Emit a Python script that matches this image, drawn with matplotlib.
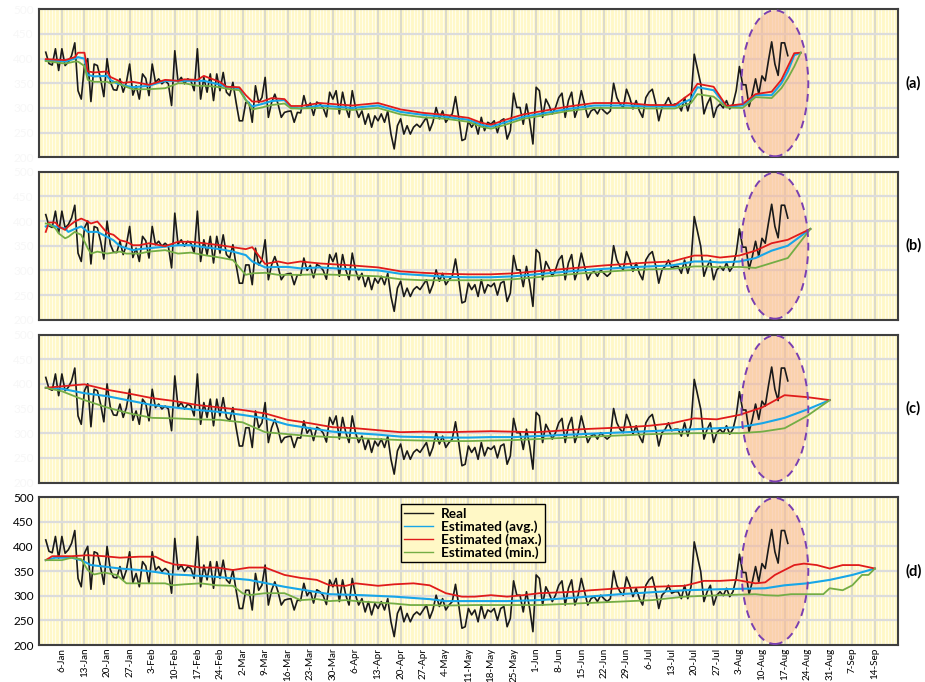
import matplotlib
matplotlib.use("Agg")
import matplotlib.pyplot as plt
from matplotlib.patches import Ellipse
import numpy as np

plt.rcParams["font.family"] = ["Lato", "DejaVu Sans"]

# day index 0 = 1-Jan (2020), one value per day
real = [
    413, 390, 387, 420, 376, 420, 386, 393, 406, 432,
    335, 318, 386, 400, 313, 389, 386, 359, 323, 400,
    353, 337, 336, 359, 332, 352, 389, 326, 345, 318,
    369, 360, 325, 389, 352, 359, 349, 355, 349, 305,
    416, 353, 362, 349, 359, 355, 335, 420, 318, 362,
    332, 369, 315, 369, 335, 372, 332, 325, 352, 311,
    274, 274, 311, 311, 271, 345, 311, 321, 362, 281,
    311, 328, 308, 281, 291, 293, 294, 271, 291, 290,
    325, 300, 310, 285, 312, 308, 300, 282,
    332, 318, 335, 288, 332, 301, 281, 335, 301, 281,
    294, 267, 288, 261, 284, 274, 288, 271, 294, 247,
    217, 264, 278, 247, 264, 247, 261, 267, 261, 271,
    281, 254, 271, 301, 278, 294, 271, 281, 288, 323,
    281, 234, 237, 274, 261,
    271, 247, 281, 254, 271, 267, 274, 250, 274, 278,
    237, 254, 330, 301, 301, 267, 308, 274, 227, 342,
    335, 281, 318, 305, 288, 301, 321, 330, 281, 315,
    332, 281, 301, 335, 308, 281, 294, 298, 288, 301,
    294, 288, 294, 350, 321,
    308, 301, 338, 321, 298, 315, 294, 281, 321, 332,
    338, 311, 274, 301, 308, 321, 305, 308, 308, 294,
    321, 294, 318, 409, 379, 349, 288, 308, 321, 281,
    301, 308, 300, 315, 298, 308, 335, 384, 347, 347,
    303, 328, 359, 328, 365,
    355, 396, 434, 389, 366, 432, 432, 406,
]

# panel (a)
a_days = [0, 6, 9, 10, 12, 13, 15, 19, 20, 22, 24, 27, 32, 37, 41, 43, 47, 49, 51, 54,
          56, 60, 62, 64, 67, 70, 74, 76, 79, 85, 95, 103, 110, 117, 124, 131, 135, 138,
          142, 148, 155, 162, 170, 180, 187, 195, 200, 202, 207, 211, 216, 220, 225,
          228, 230, 232, 234]
a_max = [399, 397, 403, 412, 412, 374, 372, 374, 363, 357, 351, 353, 347, 357, 355, 358,
         357, 365, 360, 353, 343, 342, 326, 313, 313, 320, 318, 304, 304, 310, 305, 310,
         297, 290, 286, 280, 270, 266, 275, 287, 295, 303, 310, 310, 306, 306, 330, 349,
         343, 304, 308, 328, 333, 357, 384, 411, 412]
a_avg = [397, 394, 400, 403, 400, 367, 364, 365, 357, 350, 346, 342, 345, 355, 355, 355,
         355, 355, 352, 347, 343, 340, 316, 303, 308, 314, 316, 301, 299, 305, 300, 305,
         292, 286, 282, 276, 266, 262, 270, 282, 290, 298, 305, 305, 303, 303, 318, 342,
         336, 303, 305, 326, 326, 350, 374, 407, 412]
a_min = [395, 390, 394, 394, 385, 357, 353, 353, 350, 353, 345, 338, 338, 340, 350, 350,
         345, 345, 344, 342, 339, 336, 316, 297, 301, 306, 309, 299, 299, 300, 296, 300,
         287, 281, 278, 272, 262, 258, 265, 278, 286, 294, 300, 300, 299, 299, 310, 328,
         323, 301, 300, 322, 320, 340, 360, 384, 412]

# panel (b)
b_days = [0, 1, 3, 4, 6, 7, 9, 11, 13, 14, 16, 19, 21, 23, 25, 27, 29, 32, 37, 41, 45,
          49, 54, 58, 62, 64, 68, 72, 75, 79, 85, 95, 103, 110, 117, 124, 131, 138, 145,
          152, 159, 166, 173, 180, 187, 194, 201, 205, 209, 215, 220, 225, 230, 237]
b_max = [378, 397, 397, 389, 382, 389, 399, 405, 399, 395, 399, 376, 372, 361, 358, 351,
         351, 355, 349, 358, 358, 355, 351, 347, 343, 347, 313, 318, 314, 318, 314, 310,
         306, 298, 295, 293, 292, 292, 294, 298, 302, 306, 310, 313, 316, 318, 330, 330,
         326, 330, 340, 355, 362, 384]
b_avg = [389, 392, 389, 387, 385, 378, 384, 389, 378, 378, 378, 368, 361, 349, 345, 341,
         343, 345, 348, 351, 351, 347, 343, 338, 331, 318, 306, 307, 307, 304, 306, 302,
         300, 293, 290, 287, 286, 286, 288, 292, 296, 300, 303, 306, 308, 310, 318, 318,
         316, 318, 325, 340, 350, 384]
b_min = [395, 394, 385, 375, 365, 368, 378, 372, 345, 334, 338, 334, 336, 338, 334, 334,
         334, 338, 341, 334, 336, 331, 326, 321, 291, 294, 295, 291, 291, 291, 292, 290,
         288, 282, 280, 280, 280, 280, 282, 286, 290, 294, 297, 300, 302, 303, 308, 308,
         306, 307, 305, 315, 325, 384]

# panel (c)
c_days = [0, 5, 12, 19, 26, 33, 40, 47, 54, 61, 68, 75, 82, 89, 96, 103, 110, 117, 124,
          131, 138, 145, 152, 159, 166, 173, 180, 187, 194, 201, 208, 215, 222, 229, 236, 243]
c_max = [392, 395, 399, 388, 380, 371, 365, 357, 352, 347, 340, 327, 320, 312, 310, 306,
         302, 303, 302, 303, 304, 303, 302, 305, 308, 310, 312, 315, 320, 330, 328, 337,
         352, 377, 373, 367]
c_avg = [392, 390, 381, 375, 366, 357, 352, 347, 343, 337, 330, 317, 310, 303, 300, 297,
         293, 292, 291, 291, 292, 292, 294, 296, 298, 300, 302, 304, 306, 308, 310, 312,
         320, 331, 348, 367]
c_min = [392, 385, 367, 352, 340, 331, 330, 328, 327, 322, 302, 298, 294, 292, 290, 288,
         286, 285, 284, 284, 285, 286, 288, 290, 292, 294, 296, 298, 299, 300, 300, 300,
         303, 310, 335, 367]

# panel (d)
d_avg_days = [0, 3, 8, 11, 14, 18, 23, 29, 34, 39, 43, 53, 63, 74, 88, 98, 108, 119, 124,
              133, 143, 153, 164, 178, 188, 198, 209, 223, 229, 236, 243, 250, 257]
d_avg = [372, 377, 377, 372, 362, 359, 355, 352, 348, 343, 342, 338, 332, 318, 303, 301,
         298, 293, 289, 289, 289, 291, 296, 303, 307, 311, 313, 315, 321, 325, 332, 342, 355]
d_max_days = [0, 2, 8, 13, 18, 23, 29, 34, 37, 40, 43, 48, 53, 58, 63, 68, 74, 79, 84, 88,
              93, 96, 103, 108, 114, 119, 124, 129, 133, 138, 143, 148, 153, 164, 169, 178,
              188, 198, 204, 209, 214, 220, 223, 226, 229, 232, 235, 239, 243, 247, 252, 257]
d_max = [372, 380, 380, 382, 380, 377, 379, 379, 369, 363, 362, 357, 357, 352, 357, 357,
         342, 336, 332, 321, 320, 325, 320, 323, 325, 321, 305, 298, 298, 301, 298, 301,
         305, 308, 311, 315, 318, 320, 330, 330, 332, 325, 327, 342, 352, 362, 365, 362,
         355, 362, 362, 355]
d_min_days = [0, 5, 8, 11, 13, 15, 18, 22, 25, 31, 37, 39, 43, 48, 53, 58, 61, 63, 68, 74,
              79, 84, 88, 93, 98, 103, 108, 113, 119, 124, 133, 143, 153, 164, 178, 188,
              198, 209, 220, 223, 227, 231, 235, 241, 243, 247, 250, 253, 255, 257]
d_min = [372, 372, 377, 374, 352, 343, 347, 342, 325, 325, 325, 321, 323, 325, 321, 320,
         305, 301, 305, 305, 291, 293, 289, 291, 288, 286, 284, 281, 281, 280, 281, 281,
         281, 284, 288, 291, 298, 301, 303, 301, 300, 303, 303, 303, 315, 311, 321, 342,
         342, 355]

panels = [
    ("(a)", a_days, a_avg, a_days, a_max, a_days, a_min),
    ("(b)", b_days, b_avg, b_days, b_max, b_days, b_min),
    ("(c)", c_days, c_avg, c_days, c_max, c_days, c_min),
    ("(d)", d_avg_days, d_avg, d_max_days, d_max, d_min_days, d_min),
]

tick_days = list(range(5, 258, 7))
tick_labels = ["6-Jan", "13-Jan", "20-Jan", "27-Jan", "3-Feb", "10-Feb", "17-Feb", "24-Feb",
               "2-Mar", "9-Mar", "16-Mar", "23-Mar", "30-Mar", "6-Apr", "13-Apr", "20-Apr",
               "27-Apr", "4-May", "11-May", "18-May", "25-May", "1-Jun", "8-Jun", "15-Jun",
               "22-Jun", "29-Jun", "6-Jul", "13-Jul", "20-Jul", "27-Jul", "3-Aug", "10-Aug",
               "17-Aug", "24-Aug", "31-Aug", "7-Sep", "14-Sep"]

C_REAL = "#1a1a1a"
C_AVG = "#17a6e8"
C_MAX = "#e01b1b"
C_MIN = "#74ad45"

fig = plt.figure(figsize=(9.25, 6.82), dpi=100)
tops = [9.3, 171.7, 334.5, 497.0]
ph = 148.0
pw = 858.2

for i, (lab, da, va, dm, vm, dn, vn) in enumerate(panels):
    top = tops[i]
    ax = fig.add_axes([39.3 / 925, 1 - (top + ph) / 682, pw / 925, ph / 682])
    ax.set_facecolor("#fff8c6")
    ax.set_xlim(-2, 264)
    ax.set_ylim(200, 500)
    ax.set_xticks(tick_days)
    ax.set_xticks(np.arange(-2, 265), minor=True)
    ax.set_yticks(range(200, 501, 50))
    ax.grid(which="minor", axis="x", color="#fffdeb", lw=0.9, zorder=0)
    ax.grid(which="major", axis="x", color="#d6d4cc", lw=1.2, zorder=0)
    ax.grid(which="major", axis="y", color="#dcdcdc", lw=1.6, zorder=0)
    ax.set_axisbelow(True)
    ax.tick_params(which="both", length=0)
    for s in ax.spines.values():
        s.set_color("#3f3f3f")
        s.set_linewidth(1.5)

    ax.add_patch(Ellipse((226, 350), 20.7, 296, facecolor="#f6b496", alpha=0.55,
                         edgecolor="none", zorder=1))
    ax.add_patch(Ellipse((226, 350), 20.7, 296, facecolor="none", edgecolor="#7a3fb0",
                         lw=1.4, ls=(0, (4, 3)), zorder=5))

    ax.plot(np.arange(len(real)), real, color=C_REAL, lw=1.2, zorder=3, label="Real")
    ax.plot(da, va, color=C_AVG, lw=1.5, zorder=4, label="Estimated (avg.)")
    ax.plot(dm, vm, color=C_MAX, lw=1.3, zorder=4, label="Estimated (max.)")
    ax.plot(dn, vn, color=C_MIN, lw=1.3, zorder=4, label="Estimated (min.)")

    ax.text((906 - 39.3) / pw, 0.5, lab, transform=ax.transAxes, fontsize=10.5,
            fontweight="bold", va="center", ha="left")

    if lab == "(d)":
        ax.set_xticklabels(tick_labels, rotation=90, fontsize=7.1)
        ax.tick_params(axis="x", pad=2)
        ax.tick_params(axis="y", labelsize=8.5, pad=4)
        leg = ax.legend(loc="upper left", bbox_to_anchor=(0.421, 0.95), frameon=True,
                        fancybox=False, edgecolor="black", facecolor="#fff8c6",
                        framealpha=1, prop={"weight": "bold", "size": 9.8},
                        handlelength=2.1, labelspacing=0.02, borderpad=0.25,
                        handletextpad=0.6, borderaxespad=0)
        leg.get_frame().set_linewidth(1.0)
        for ln in leg.get_lines():
            ln.set_linewidth(1.0)
    else:
        ax.set_xticklabels([])
        ax.tick_params(axis="y", labelsize=8.5, pad=4, labelcolor="#f7f7f7")

fig.savefig("out.png", dpi=100)
